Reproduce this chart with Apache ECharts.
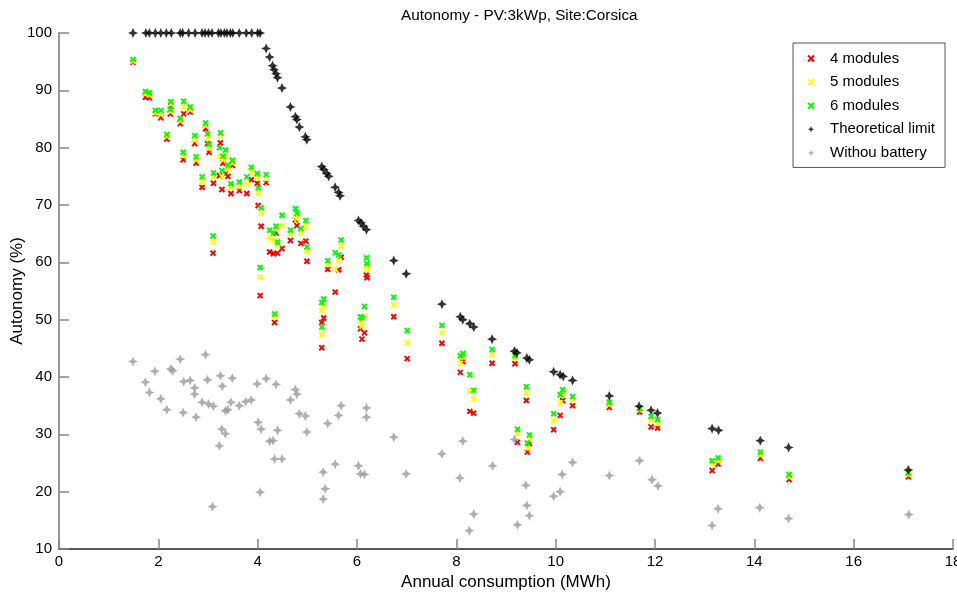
<!DOCTYPE html>
<html>
<head>
<meta charset="utf-8">
<script src="https://cdn.jsdelivr.net/npm/echarts@6/dist/echarts.min.js"></script>
<style>
html,body{margin:0;padding:0;background:#fff;}
#chart{width:957px;height:598px;}
</style>
</head>
<body>
<div id="chart"></div>
<script>
// Colored series: annual consumption (MWh) per house, and autonomy (%) for 4/5/6 modules
const houseX = [1.49,1.74,1.82,1.94,2.05,2.17,2.25,2.24,2.44,2.51,2.64,2.50,2.73,2.76,2.88,2.95,2.99,3.02,3.11,3.23,3.25,3.28,3.30,3.35,3.40,3.46,3.49,3.63,3.78,3.87,3.99,4.17,4.01,4.07,4.49,4.37,4.24,4.32,4.40,4.76,4.79,4.66,3.10,4.05,4.34,4.87,4.97,4.99,5.68,5.56,5.63,5.41,6.19,6.20,5.33,5.29,5.29,6.15,6.07,6.10,6.74,7.01,7.71,8.08,8.13,8.27,8.35,8.72,9.18,9.23,9.47,9.43,9.41,9.96,10.09,10.14,10.34,11.08,11.69,11.92,12.05,13.15,13.27,14.12,14.70,17.10];
const mod6 = [95.4,89.8,89.6,86.5,86.5,82.3,88.0,86.7,85.1,88.1,87.1,79.2,82.1,78.4,74.9,84.3,82.4,80.6,75.6,80.0,82.6,76.0,78.5,79.6,77.0,73.7,77.8,74.0,74.9,76.6,75.5,75.3,73.0,69.5,68.2,66.3,65.6,65.1,63.5,69.4,68.5,65.6,64.6,59.1,51.0,65.9,67.3,62.7,63.9,61.7,61.3,60.3,60.8,59.8,53.6,53.0,48.7,52.3,50.5,50.3,53.9,48.1,49.0,43.7,44.1,40.4,37.7,44.8,43.7,30.9,29.9,28.5,38.3,33.6,36.9,37.8,36.6,35.6,34.5,33.1,32.6,25.4,25.9,26.9,23.0,23.3];
const mod5 = [95.1,89.4,89.2,86.1,85.8,82.0,87.6,86.3,84.7,87.1,86.6,78.6,81.3,77.9,74.0,83.8,81.7,79.9,74.9,78.5,82.0,75.0,77.9,78.5,76.2,73.1,77.3,73.2,73.7,75.7,74.7,74.6,72.1,68.5,66.4,65.7,64.2,63.8,63.0,68.0,67.6,65.0,63.5,57.4,50.5,65.1,66.2,61.9,62.8,58.8,60.3,59.6,59.1,58.7,52.4,51.6,47.4,50.6,49.7,48.9,52.6,46.0,47.7,42.4,43.5,37.6,36.2,43.9,43.3,30.2,29.1,27.6,37.2,32.4,35.5,36.9,36.0,35.2,34.3,32.4,31.9,24.9,25.4,26.4,22.6,23.0];
const mod4 = [94.9,88.8,88.7,85.9,85.2,81.5,87.1,85.9,84.2,85.9,86.2,77.9,80.7,77.3,73.1,83.3,80.7,79.2,73.8,75.1,80.8,72.7,77.3,75.5,75.0,72.0,76.9,72.5,72.0,74.4,73.8,73.9,69.9,66.3,62.4,65.1,61.8,61.5,61.6,67.4,66.4,63.8,61.6,54.2,49.5,63.3,63.7,60.2,60.9,54.8,58.7,58.8,57.8,57.3,50.3,49.5,45.1,47.7,48.4,46.6,50.5,43.2,45.9,40.8,42.7,34.0,33.7,42.4,42.3,28.6,28.4,26.9,35.9,30.8,33.3,35.9,35.0,34.7,33.9,31.3,31.1,23.7,24.8,25.8,22.1,22.6];

// Theoretical limit
const limitX = [1.49,1.75,1.82,1.94,2.05,2.16,2.26,2.44,2.49,2.61,2.74,2.88,2.94,3.01,3.08,3.21,3.26,3.33,3.38,3.45,3.50,3.63,3.77,3.88,4.00,4.05,4.17,4.24,4.30,4.33,4.37,4.40,4.49,4.66,4.76,4.79,4.84,4.96,4.99,5.29,5.33,5.39,5.43,5.56,5.63,5.66,6.03,6.08,6.13,6.19,6.74,6.99,7.71,8.08,8.13,8.27,8.35,8.72,9.17,9.22,9.42,9.47,9.96,10.09,10.15,10.34,11.08,11.68,11.92,12.05,13.15,13.28,14.12,14.69,17.10];
const limitY = [100,100,100,100,100,100,100,100,100,100,100,100,100,100,100,100,100,100,100,100,100,100,100,100,100,100,97.3,95.8,94.3,93.6,92.9,92.2,90.4,87.1,85.4,84.9,83.6,81.9,81.4,76.7,76.2,75.5,75.0,73.1,72.2,71.6,67.3,66.9,66.3,65.7,60.3,58.0,52.7,50.5,50.0,49.3,48.7,46.6,44.5,44.2,43.3,43.0,40.9,40.4,40.1,39.4,36.7,34.9,34.2,33.7,31.0,30.7,28.9,27.7,23.8];

// Without battery
const noBattX = [1.49,2.44,2.95,1.74,1.93,2.25,2.29,1.82,2.51,2.64,2.73,2.73,2.05,2.17,2.50,2.76,2.88,2.99,3.01,3.11,3.25,3.29,3.49,3.46,3.35,3.40,3.63,3.76,3.87,3.99,4.17,4.37,4.66,4.76,4.79,4.84,3.28,3.35,3.23,4.01,4.07,4.40,4.24,4.31,4.34,4.49,4.05,3.09,4.96,4.99,5.68,5.63,5.41,6.19,6.19,6.74,5.56,5.32,5.36,5.32,6.03,6.07,6.15,6.99,7.71,8.13,8.07,8.35,8.26,8.73,9.17,9.40,9.42,9.47,9.23,10.13,10.34,9.96,10.09,11.08,11.69,11.94,12.06,13.15,13.27,14.11,14.69,17.11];
const noBattY = [42.7,43.1,43.9,39.1,41.0,41.4,41.1,37.3,39.2,39.4,38.1,37.0,36.2,34.3,33.8,33.0,35.6,39.5,35.3,34.9,40.2,38.4,39.8,35.6,34.1,34.3,35.0,35.7,36.0,38.8,39.7,38.7,36.0,37.8,37.0,33.6,30.9,30.1,28.0,32.1,30.9,30.7,28.8,28.9,25.7,25.7,19.9,17.4,33.2,30.4,35.0,33.3,31.9,34.6,33.0,29.5,24.8,23.4,20.5,18.7,24.5,23.1,23.0,23.1,26.6,28.8,22.4,16.1,13.2,24.5,29.1,21.1,17.6,15.8,14.2,23.0,25.1,19.2,20.0,22.8,25.4,22.1,21.0,14.1,17.0,17.2,15.3,16.0];

const xTicks = {min: 0, max: 18, interval: 2};
const yTicks = {min: 10, max: 100, interval: 10};
const seriesNames = ['4 modules','5 modules','6 modules','Theoretical limit','Withou battery'];

const FONT = '"Liberation Sans", Arial, sans-serif';
const CROSS = 'path://M0,0L10,10M10,0L0,10';
const STAR = 'path://M5,0L6.6,3.4L10,5L6.6,6.6L5,10L3.4,6.6L0,5L3.4,3.4Z';

function pairs(xs, ys){ return xs.map((x,i)=>[x, ys[i]]); }

function crossSeries(name, ys, color){
  return {
    name: name, type: 'scatter', data: pairs(houseX, ys),
    symbol: CROSS, symbolSize: 5, symbolKeepAspect: true,
    itemStyle: {color: color, borderColor: color, borderWidth: 2, opacity: 1},
    emphasis: {disabled: true}
  };
}

const chart = echarts.init(document.getElementById('chart'), null, {renderer: 'canvas'});
chart.setOption({
  backgroundColor: '#ffffff',
  animation: false,
  title: {
    text: 'Autonomy - PV:3kWp, Site:Corsica',
    left: 396, top: 3,
    textStyle: {fontFamily: FONT, fontSize: 15.3, fontWeight: 'normal', color: '#000'}
  },
  grid: {left: 59, right: 4, top: 33, bottom: 49, containLabel: false, outerBoundsMode: 'none'},
  legend: {
    orient: 'vertical', left: 793, top: 43,
    backgroundColor: '#fff', borderColor: '#555', borderWidth: 1,
    padding: [8, 10, 7, 14], itemWidth: 10, itemHeight: 6, itemGap: 8.6,
    textStyle: {fontFamily: FONT, fontSize: 15, color: '#000', padding: [0,0,0,9]},
    data: seriesNames
  },
  xAxis: {
    type: 'value', min: xTicks.min, max: xTicks.max, interval: xTicks.interval,
    name: 'Annual consumption (MWh)', nameLocation: 'middle', nameGap: 25,
    nameTextStyle: {fontFamily: FONT, fontSize: 17, color: '#000'},
    axisLine: {show: true, lineStyle: {color: '#222', width: 1.5}},
    axisTick: {show: true, inside: true, length: 10, lineStyle: {color: '#888', width: 1.5}},
    axisLabel: {fontFamily: FONT, fontSize: 15, color: '#000', margin: 5},
    splitLine: {show: false}
  },
  yAxis: {
    type: 'value', min: yTicks.min, max: yTicks.max, interval: yTicks.interval,
    name: 'Autonomy (%)', nameLocation: 'middle', nameGap: 33, nameRotate: 90,
    nameMoveOverlap: false,
    nameTextStyle: {fontFamily: FONT, fontSize: 17, color: '#000'},
    axisLine: {show: true, lineStyle: {color: '#999', width: 2}},
    axisTick: {show: true, inside: true, length: 10, lineStyle: {color: '#888', width: 1.5}},
    axisLabel: {fontFamily: FONT, fontSize: 15, color: '#000', margin: 7},
    splitLine: {show: false}
  },
  series: [
    crossSeries(seriesNames[0], mod4, '#ff0000'),
    crossSeries(seriesNames[1], mod5, '#ffff00'),
    crossSeries(seriesNames[2], mod6, '#00ff00'),
    {
      name: seriesNames[3], type: 'scatter', data: pairs(limitX, limitY),
      symbol: STAR, symbolSize: 10, symbolKeepAspect: true,
      itemStyle: {color: '#000'}, emphasis: {disabled: true}
    },
    {
      name: seriesNames[4], type: 'scatter', data: pairs(noBattX, noBattY),
      symbol: STAR, symbolSize: 10, symbolKeepAspect: true,
      itemStyle: {color: '#9b9b9b'}, emphasis: {disabled: true}
    }
  ]
});
</script>
</body>
</html>
